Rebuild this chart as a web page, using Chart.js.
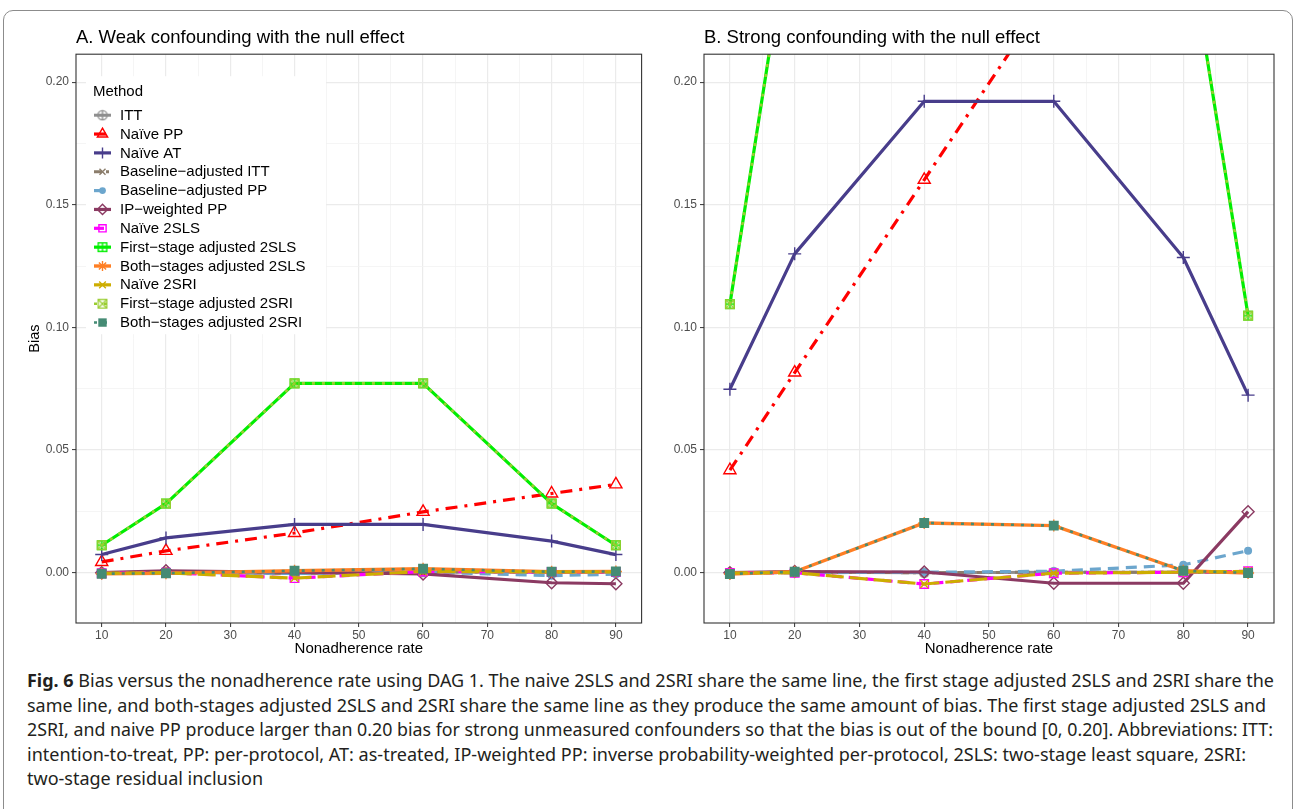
<!DOCTYPE html>
<html>
<head>
<meta charset="utf-8">
<script src="https://cdn.jsdelivr.net/npm/chart.js@4.4.0/dist/chart.umd.min.js"></script>
<style>
html,body{margin:0;padding:0;background:#fff;}
body{width:1295px;height:809px;position:relative;overflow:hidden;font-family:"Liberation Sans",Arial,sans-serif;}
#frame{position:absolute;left:3px;top:10px;width:1290px;height:860px;border:1.5px solid #8c8c8c;border-radius:10px;box-sizing:border-box;}
canvas{position:absolute;top:0;}
#cA{left:0;}
#cB{left:650px;}
.cap{position:absolute;left:27px;white-space:nowrap;font-family:"Noto Sans","Open Sans","Liberation Sans",sans-serif;font-size:18px;line-height:20px;color:#231f20;transform-origin:0 50%;}
.cap b{font-weight:bold;}
</style>
</head>
<body>
<div id="frame"></div>
<canvas id="cA" width="650" height="660" style="width:650px;height:660px"></canvas>
<canvas id="cB" width="640" height="660" style="width:640px;height:660px"></canvas>
<div class="cap" data-end="1274" style="top:670px"><b>Fig. 6</b> Bias versus the nonadherence rate using DAG 1. The naive 2SLS and 2SRI share the same line, the first stage adjusted 2SLS and 2SRI share the</div>
<div class="cap" data-end="1266" style="top:695px">same line, and both-stages adjusted 2SLS and 2SRI share the same line as they produce the same amount of bias. The first stage adjusted 2SLS and</div>
<div class="cap" data-end="1273" style="top:719px">2SRI, and naive PP produce larger than 0.20 bias for strong unmeasured confounders so that the bias is out of the bound [0, 0.20]. Abbreviations: ITT:</div>
<div class="cap" data-end="1246" style="top:744px">intention-to-treat, PP: per-protocol, AT: as-treated, IP-weighted PP: inverse probability-weighted per-protocol, 2SLS: two-stage least square, 2SRI:</div>
<div class="cap" data-end="263" style="top:768px">two-stage residual inclusion</div>
<script>
// ---------------- DATA ----------------
const nonadherence = [10, 20, 40, 60, 80, 90];
const methods = ['ITT', 'Naïve PP', 'Naïve AT', 'Baseline\u2212adjusted ITT', 'Baseline\u2212adjusted PP', 'IP\u2212weighted PP',
  'Naïve 2SLS', 'First\u2212stage adjusted 2SLS', 'Both\u2212stages adjusted 2SLS', 'Naïve 2SRI', 'First\u2212stage adjusted 2SRI', 'Both\u2212stages adjusted 2SRI'];

// Panel A: weak confounding
const ittA       = [0.0000, 0.0003, -0.0003, 0.0003, 0.0002, 0.0002];
const naivePPA   = [0.0044, 0.0089, 0.0162, 0.0248, 0.0323, 0.0360];
const naiveATA   = [0.0074, 0.0142, 0.0197, 0.0197, 0.0129, 0.0074];
const baITTA     = [0.0000, 0.0003, -0.0003, 0.0003, 0.0002, 0.0002];
const baPPA      = [-0.0002, 0.0002, -0.0003, 0.0003, -0.0012, -0.0006];
const ipwPPA     = [0.0000, 0.0008, 0.0002, -0.0005, -0.0041, -0.0045];
const naive2SLSA = [-0.0002, 0.0000, -0.0022, 0.0005, 0.0003, 0.0003];
const fs2SLSA    = [0.0112, 0.0282, 0.0772, 0.0772, 0.0282, 0.0112];
const bs2SLSA    = [-0.0004, -0.0002, 0.0008, 0.0016, 0.0004, 0.0005];
const naive2SRIA = [-0.0002, 0.0000, -0.0022, 0.0005, 0.0003, 0.0003];
const fs2SRIA    = [0.0112, 0.0282, 0.0772, 0.0772, 0.0282, 0.0112];
const bs2SRIA    = [-0.0004, -0.0002, 0.0008, 0.0016, 0.0004, 0.0005];

// Panel B: strong confounding
const ittB       = [0.0000, 0.0002, 0.0000, 0.0002, 0.0002, 0.0001];
const naivePPB   = [0.0418, 0.0816, 0.1602, 0.2390, 0.3180, 0.3570];
const naiveATB   = [0.0748, 0.1300, 0.1922, 0.1922, 0.1285, 0.0724];
const baITTB     = [0.0000, 0.0002, 0.0000, 0.0002, 0.0002, 0.0001];
const baPPB      = [0.0000, 0.0000, 0.0002, 0.0006, 0.0032, 0.0090];
const ipwPPB     = [0.0000, 0.0005, 0.0003, -0.0043, -0.0043, 0.0249];
const naive2SLSB = [-0.0001, 0.0000, -0.0046, -0.0002, 0.0002, 0.0006];
const fs2SLSB    = [0.1095, 0.2780, 0.7500, 0.7500, 0.2706, 0.1048];
const bs2SLSB    = [-0.0005, 0.0004, 0.0203, 0.0192, 0.0008, -0.0001];
const naive2SRIB = [-0.0001, 0.0000, -0.0046, -0.0002, 0.0002, 0.0006];
const fs2SRIB    = [0.1095, 0.2780, 0.7500, 0.7500, 0.2706, 0.1048];
const bs2SRIB    = [-0.0005, 0.0004, 0.0203, 0.0192, 0.0008, -0.0001];

const seriesA = [ittA, naivePPA, naiveATA, baITTA, baPPA, ipwPPA, naive2SLSA, fs2SLSA, bs2SLSA, naive2SRIA, fs2SRIA, bs2SRIA];
const seriesB = [ittB, naivePPB, naiveATB, baITTB, baPPB, ipwPPB, naive2SLSB, fs2SLSB, bs2SLSB, naive2SRIB, fs2SRIB, bs2SRIB];

const xMajor = [10, 20, 30, 40, 50, 60, 70, 80, 90];
const xTickLabels = ['10', '20', '30', '40', '50', '60', '70', '80', '90'];
const xMinor = [15, 25, 35, 45, 55, 65, 75, 85];
const yMajor = [0, 0.05, 0.10, 0.15, 0.20];
const yTickLabels = ['0.00', '0.05', '0.10', '0.15', '0.20'];
const yMinor = [0.025, 0.075, 0.125, 0.175];

const titleA = 'A. Weak confounding with the null effect';
const titleB = 'B. Strong confounding with the null effect';
const xTitle = 'Nonadherence rate';
const yTitle = 'Bias';
const legendTitle = 'Method';

// ---------------- STYLE ----------------
const FONT = '"Liberation Sans", Arial, sans-serif';
const colors = ['#8f8f8f', '#ff0000', '#483d8b', '#8b7d6b', '#6ca6cd', '#8b3a62', '#ff00ff', '#00ee00', '#ff7f24', '#cdad00', '#9acd32', '#458b74'];
const dashes = [[], [12, 7, 3, 7], [], [8, 4, 3, 4], [11, 7], [], [10, 7], [], [], [18, 6], [3, 7], [3, 7]];
const widths = [3, 3.2, 3.2, 3, 3.2, 3.2, 3.2, 3.2, 3.4, 3.2, 2.6, 2.6];

function mk(size, draw) {
  const c = document.createElement('canvas');
  c.width = size; c.height = size;
  const g = c.getContext('2d');
  draw(g, size / 2);
  return c;
}
const circlePlus = mk(12, (g, m) => {
  g.strokeStyle = colors[0]; g.lineWidth = 1.4;
  g.beginPath(); g.arc(m, m, 4.6, 0, Math.PI * 2); g.stroke();
  g.beginPath(); g.moveTo(m - 4.6, m); g.lineTo(m + 4.6, m); g.moveTo(m, m - 4.6); g.lineTo(m, m + 4.6); g.stroke();
});
const squarePlus = mk(12, (g, m) => {
  g.strokeStyle = colors[7]; g.lineWidth = 1.4;
  g.strokeRect(m - 4.3, m - 4.3, 8.6, 8.6);
  g.beginPath(); g.moveTo(m - 4.3, m); g.lineTo(m + 4.3, m); g.moveTo(m, m - 4.3); g.lineTo(m, m + 4.3); g.stroke();
});
const squareCross = mk(12, (g, m) => {
  g.strokeStyle = colors[10]; g.lineWidth = 1.3;
  g.strokeRect(m - 4.3, m - 4.3, 8.6, 8.6);
  g.beginPath(); g.moveTo(m - 4.3, m - 4.3); g.lineTo(m + 4.3, m + 4.3); g.moveTo(m + 4.3, m - 4.3); g.lineTo(m - 4.3, m + 4.3); g.stroke();
});
const pointStyles = [circlePlus, 'triangle', 'cross', 'crossRot', 'circle', 'rectRot', 'rect', squarePlus, 'star', 'crossRot', squareCross, 'rect'];
const pointRadii = [5, 7, 6.5, 5, 4, 6, 6, 5, 6, 5.5, 5, 7];
const pointFills = ['rgba(0,0,0,0)', 'rgba(0,0,0,0)', 'rgba(0,0,0,0)', 'rgba(0,0,0,0)', colors[4], 'rgba(0,0,0,0)', 'rgba(0,0,0,0)', 'rgba(0,0,0,0)', 'rgba(0,0,0,0)', 'rgba(0,0,0,0)', 'rgba(0,0,0,0)', colors[11]];
const pointBorders = [1.4, 1.4, 1.4, 1.4, 0, 1.4, 1.4, 1.4, 1.4, 1.4, 1.3, 0];

function makeDatasets(series) {
  return series.map((vals, i) => ({
    label: methods[i],
    data: nonadherence.map((x, j) => ({ x: x, y: vals[j] })),
    borderColor: colors[i],
    backgroundColor: pointFills[i],
    borderWidth: widths[i],
    borderDash: dashes[i],
    borderCapStyle: 'butt',
    borderJoinStyle: 'round',
    pointStyle: pointStyles[i],
    pointRadius: pointRadii[i],
    pointHoverRadius: pointRadii[i],
    pointBorderWidth: pointBorders[i],
    pointBorderColor: colors[i],
    pointBackgroundColor: pointFills[i],
    tension: 0,
    fill: false,
    order: series.length - 1 - i
  }));
}

const isIn = (arr, v) => arr.some(a => Math.abs(a - v) < 1e-9);

function makeScales(showYTitle, yWidth) {
  return {
    x: {
      type: 'linear', min: 6, max: 94,
      afterBuildTicks: s => { s.ticks = xMajor.concat(xMinor).sort((a, b) => a - b).map(v => ({ value: v })); },
      afterFit: s => { s.height = 37; },
      border: { display: false },
      grid: {
        color: c => (c.tick && isIn(xMajor, c.tick.value)) ? '#ebebeb' : '#f3f3f3',
        lineWidth: c => (c.tick && isIn(xMajor, c.tick.value)) ? 1.2 : 0.8,
        drawTicks: true, tickLength: 4, tickWidth: 1,
        tickColor: c => (c.tick && isIn(xMajor, c.tick.value)) ? '#333333' : 'rgba(0,0,0,0)'
      },
      ticks: {
        autoSkip: false, maxRotation: 0, padding: 1, color: '#4d4d4d', font: { family: FONT, size: 12 },
        callback: v => { const i = xMajor.findIndex(a => Math.abs(a - v) < 1e-9); return i >= 0 ? xTickLabels[i] : ''; }
      },
      title: { display: true, text: xTitle, color: '#000', font: { family: FONT, size: 15 }, padding: { top: 0, bottom: 2 } }
    },
    y: {
      type: 'linear', min: -0.0205, max: 0.2114, position: 'left',
      afterBuildTicks: s => { s.ticks = yMajor.concat(yMinor).sort((a, b) => a - b).map(v => ({ value: v })); },
      afterFit: s => { s.width = yWidth; },
      border: { display: false },
      grid: {
        color: c => (c.tick && isIn(yMajor, c.tick.value)) ? '#ebebeb' : '#f3f3f3',
        lineWidth: c => (c.tick && isIn(yMajor, c.tick.value)) ? 1.2 : 0.8,
        drawTicks: true, tickLength: 4, tickWidth: 1,
        tickColor: c => (c.tick && isIn(yMajor, c.tick.value)) ? '#333333' : 'rgba(0,0,0,0)'
      },
      ticks: {
        autoSkip: false, padding: 3, color: '#4d4d4d', font: { family: FONT, size: 12 },
        callback: v => { const i = yMajor.findIndex(a => Math.abs(a - v) < 1e-9); return i >= 0 ? yTickLabels[i] : ''; }
      },
      title: { display: showYTitle, text: yTitle, color: '#000', font: { family: FONT, size: 14.5 }, padding: { top: 26, bottom: 0 } }
    }
  };
}

const framePlugin = {
  id: 'panelFrame',
  afterDraw(chart) {
    const a = chart.chartArea, ctx = chart.ctx;
    ctx.save();
    ctx.strokeStyle = '#333333'; ctx.lineWidth = 1.1;
    ctx.strokeRect(a.left, a.top, a.right - a.left, a.bottom - a.top);
    ctx.restore();
  }
};

const legendPlugin = {
  id: 'ggLegend',
  afterDraw(chart) {
    const a = chart.chartArea, ctx = chart.ctx;
    const bx = a.left + 10, by = a.top + 22, bw = 240, bh = 258;
    ctx.save();
    ctx.fillStyle = '#ffffff';
    ctx.fillRect(bx, by, bw, bh);
    ctx.fillStyle = '#000';
    ctx.font = '15px ' + FONT;
    ctx.textBaseline = 'middle'; ctx.textAlign = 'left';
    ctx.fillText(legendTitle, a.left + 17, a.top + 37.5);
    const ds = chart.data.datasets;
    for (let i = 0; i < ds.length; i++) {
      const d = ds[i];
      const y = a.top + 61 + i * 18.85;
      const k0 = a.left + 18, k1 = a.left + 35, kc = (k0 + k1) / 2;
      ctx.strokeStyle = d.borderColor; ctx.lineWidth = d.borderWidth;
      ctx.setLineDash(d.borderDash || []);
      ctx.beginPath(); ctx.moveTo(k0, y); ctx.lineTo(k1, y); ctx.stroke();
      ctx.setLineDash([]);
      ctx.fillStyle = d.pointBackgroundColor; ctx.strokeStyle = d.pointBorderColor; ctx.lineWidth = d.pointBorderWidth;
      Chart.helpers.drawPoint(ctx, { pointStyle: d.pointStyle, radius: d.pointRadius * 0.85, rotation: 0, borderWidth: d.pointBorderWidth }, kc, y);
      ctx.fillStyle = '#000';
      ctx.font = '15px ' + FONT;
      ctx.fillText(d.label, a.left + 44, y + 0.5);
    }
    ctx.restore();
  }
};

function makeChart(id, series, title, showYTitle, yWidth, padRight, plugins) {
  return new Chart(document.getElementById(id), {
    type: 'line',
    data: { datasets: makeDatasets(series) },
    options: {
      responsive: false, animation: false, devicePixelRatio: 1,
      layout: { padding: { left: 0, right: padRight, top: 0, bottom: 0 } },
      scales: makeScales(showYTitle, yWidth),
      plugins: {
        legend: { display: false },
        tooltip: { enabled: false },
        title: {
          display: true, text: title, align: 'start', fullSize: false, color: '#000',
          font: { family: FONT, size: 18.5, weight: 'normal' }, padding: { top: 27, bottom: 5 }
        }
      }
    },
    plugins: plugins
  });
}

makeChart('cA', seriesA, titleA, true, 76, 5, [framePlugin, legendPlugin]);
makeChart('cB', seriesB, titleB, false, 54, 16, [framePlugin]);

// fit caption lines to their measured widths
document.querySelectorAll('.cap').forEach(el => {
  const target = parseFloat(el.dataset.end) - 27;
  const w = el.getBoundingClientRect().width;
  el.style.transform = 'scaleX(' + (target / w) + ')';
});
</script>
</body>
</html>
